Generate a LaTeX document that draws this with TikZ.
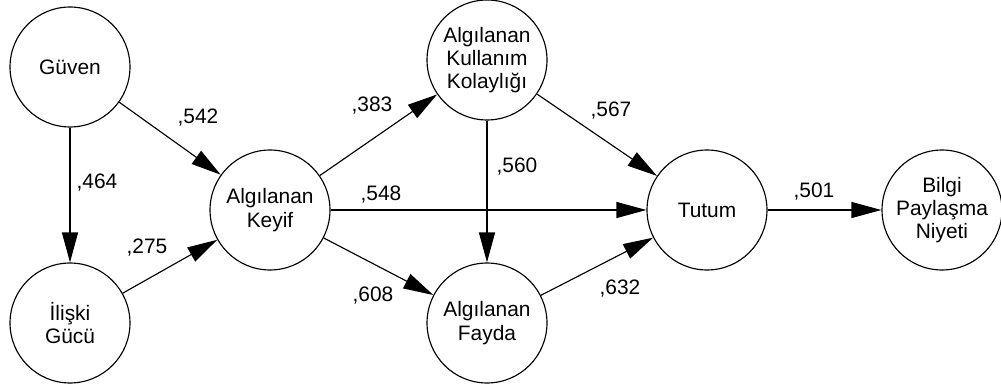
\documentclass[tikz,border=0pt]{standalone}
\usepackage{fontspec}
\setmainfont{Liberation Sans}
\usetikzlibrary{arrows.meta}

\begin{document}
\begin{tikzpicture}[x=0.02cm,y=-0.02cm]
	\tikzstyle{node_style} = [circle,draw=black,line width=0.65pt,minimum size=2.4cm,inner sep=0pt,align=center,font=\fontsize{11.9}{13.2}\selectfont]
	\tikzstyle{edge_style} = [draw=black,line width=0.65pt,-{Triangle[length=0.6cm,width=0.32cm]}]
	\tikzstyle{label_style} = [inner sep=0pt,font=\fontsize{11.9}{13.2}\selectfont]
	\useasboundingbox (0,0) rectangle (1001,388);
	\node[node_style] (guven) at (70,67) {Güven};
	\node[node_style] (iliski) at (70,323) {İlişki\\Gücü};
	\node[node_style] (keyif) at (270,210) {Algılanan\\Keyif};
	\node[node_style] (kolay) at (487,60) {Algılanan\\Kullanım\\Kolaylığı};
	\node[node_style] (fayda) at (487,323) {Algılanan\\Fayda};
	\node[node_style] (tutum) at (707,210) {Tutum};
	\node[node_style] (niyet) at (942,210) {Bilgi\\Paylaşma\\Niyeti};
	\draw[edge_style]  (guven) edge (keyif);
	\draw[edge_style]  (guven) edge (iliski);
	\draw[edge_style]  (iliski) edge (keyif);
	\draw[edge_style]  (keyif) edge (kolay);
	\draw[edge_style]  (keyif) edge (tutum);
	\draw[edge_style]  (keyif) edge (fayda);
	\draw[edge_style]  (kolay) edge (fayda);
	\draw[edge_style]  (kolay) edge (tutum);
	\draw[edge_style]  (fayda) edge (tutum);
	\draw[edge_style]  (tutum) edge (niyet);
	\node[label_style] (l542) at (198,118) {,542};
	\node[label_style] (l464) at (97,183) {,464};
	\node[label_style] (l275) at (147,248) {,275};
	\node[label_style] (l383) at (372,106) {,383};
	\node[label_style] (l548) at (381,195) {,548};
	\node[label_style] (l608) at (373,296) {,608};
	\node[label_style] (l560) at (517,167) {,560};
	\node[label_style] (l567) at (611,111) {,567};
	\node[label_style] (l632) at (620,289) {,632};
	\node[label_style] (l501) at (814,192) {,501};
\end{tikzpicture}
\end{document}
